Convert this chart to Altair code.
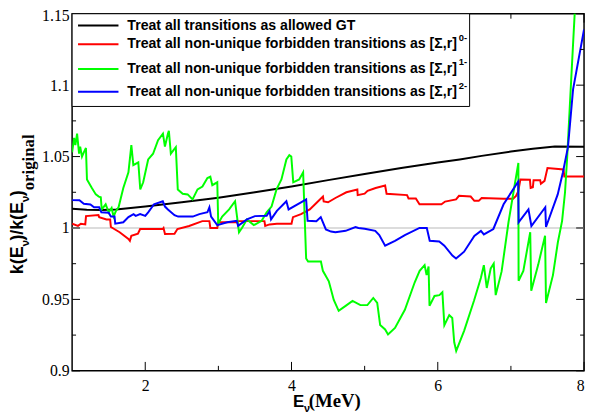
import altair as alt
import pandas as pd

# ---------------- data ----------------
SERIES = ["allowed GT", "[S,r]0-", "[S,r]1-", "[S,r]2-"]
COLORS = ["#000000", "#ff0000", "#00ff00", "#0000ff"]

BLACK_X = [1.0, 1.2, 1.4, 1.6, 2.0, 2.5, 3.0, 3.5, 4.0, 4.5, 5.0, 5.5, 6.0, 6.3, 6.6, 7.0, 7.3, 7.6, 8.0]
BLACK_Y = [1.0135, 1.0128, 1.0126, 1.013, 1.015, 1.018, 1.0212, 1.025, 1.029, 1.0335, 1.0378, 1.042,
           1.0458, 1.048, 1.0505, 1.0535, 1.0555, 1.057, 1.0568]

RED_X = [1.0, 1.08, 1.12, 1.18, 1.19, 1.36, 1.37, 1.47, 1.52, 1.53, 1.65, 1.77, 1.79, 1.81, 1.9, 1.93,
         2.24, 2.25, 2.27, 2.4, 2.44, 2.6, 2.78, 2.877, 2.89, 2.985, 3.0, 3.25, 3.27, 3.63, 3.64, 3.7,
         3.8, 4.0, 4.02, 4.13, 4.25, 4.35, 4.43, 4.44, 4.5, 4.6, 4.75, 4.9, 4.905, 5.0, 5.04, 5.15,
         5.28, 5.3, 5.58, 5.6, 5.7, 5.75, 6.05, 6.1, 6.25, 6.29, 6.45, 6.5, 6.56, 6.6, 6.9, 7.03,
         7.07, 7.1, 7.13, 7.26, 7.27, 7.3, 7.31, 7.4, 7.41, 7.46, 7.5, 7.72, 7.73, 8.0]
RED_Y = [1.003, 1.0015, 1.003, 1.0025, 1.0083, 1.009, 1.0076, 1.006, 1.006, 1.0007, 0.997, 0.9924,
         0.991, 0.9945, 0.996, 0.9993, 0.9993, 1.0, 0.9958, 0.996, 0.9993, 1.0014, 1.0048, 1.0048,
         1.0, 1.0, 1.004, 1.004, 1.0048, 1.0048, 1.0014, 1.0025, 1.003, 1.003, 1.0076, 1.0097, 1.013,
         1.018, 1.022, 1.0186, 1.018, 1.021, 1.025, 1.027, 1.023, 1.024, 1.026, 1.028, 1.0297, 1.024,
         1.023, 1.0207, 1.0207, 1.0166, 1.0166, 1.0185, 1.02, 1.0225, 1.022, 1.019, 1.019, 1.021,
         1.0205, 1.0205, 1.0225, 1.0256, 1.034, 1.0338, 1.028, 1.0285, 1.0335, 1.0335, 1.031, 1.033,
         1.042, 1.041, 1.036, 1.036]

GREEN_X = [1.0, 1.027, 1.045, 1.068, 1.095, 1.11, 1.135, 1.16, 1.189, 1.203, 1.27, 1.324, 1.365,
           1.392, 1.405, 1.459, 1.5, 1.54, 1.567, 1.6, 1.635, 1.7, 1.77, 1.81, 1.837, 1.905, 1.932,
           1.972, 2.04, 2.107, 2.175, 2.242, 2.269, 2.31, 2.323, 2.35, 2.418, 2.445, 2.512, 2.58,
           2.647, 2.715, 2.782, 2.85, 2.89, 2.917, 2.985, 2.998, 3.052, 3.147, 3.228, 3.255, 3.282,
           3.322, 3.39, 3.484, 3.592, 3.66, 3.727, 3.795, 3.862, 3.93, 3.97, 3.997, 4.024, 4.105,
           4.159, 4.173, 4.2, 4.227, 4.402, 4.429, 4.51, 4.578, 4.645, 4.74, 4.834, 4.942, 5.037,
           5.118, 5.172, 5.212, 5.28, 5.32, 5.415, 5.55, 5.685, 5.752, 5.82, 5.847, 5.874, 5.887,
           5.955, 6.022, 6.063, 6.09, 6.157, 6.198, 6.225, 6.252, 6.36, 6.495, 6.589, 6.63, 6.67,
           6.724, 6.765, 6.792, 6.873, 6.967, 7.035, 7.102, 7.105, 7.17, 7.264, 7.278, 7.372, 7.467,
           7.48, 7.575, 7.642, 7.70, 7.74, 7.77, 7.80, 7.845, 7.872, 7.9]
GREEN_Y = [1.053, 1.063, 1.058, 1.066, 1.052, 1.057, 1.05, 1.053, 1.056, 1.034, 1.028, 1.0235, 1.022,
           1.0215, 1.013, 1.0166, 1.011, 1.014, 1.008, 1.012, 1.0145, 1.028, 1.039, 1.058, 1.044,
           1.046, 1.027, 1.032, 1.048, 1.052, 1.0615, 1.066, 1.057, 1.066, 1.068, 1.052, 1.0566,
           1.027, 1.024, 1.0235, 1.02, 1.027, 1.029, 1.035, 1.036, 1.03, 1.032, 1.003, 1.008, 1.013,
           1.0187, 1.008, 0.997, 1.0, 1.006, 1.002, 1.005, 1.011, 1.015, 1.027, 1.034, 1.048, 1.051,
           1.05, 1.032, 1.034, 1.039, 1.018, 0.9786, 0.9765, 0.9765, 0.970, 0.9627, 0.9496, 0.942,
           0.9455, 0.9489, 0.946, 0.946, 0.951, 0.9475, 0.932, 0.929, 0.9254, 0.930, 0.9427, 0.962,
           0.970, 0.974, 0.967, 0.973, 0.9455, 0.9524, 0.953, 0.955, 0.932, 0.939, 0.937, 0.92,
           0.914, 0.928, 0.949, 0.965, 0.974, 0.958, 0.9717, 0.975, 0.953, 0.9696, 1.004, 1.025,
           1.0455, 0.963, 0.97, 0.997, 0.956, 0.974, 0.9945, 0.9475, 0.967, 0.99, 1.005, 1.025,
           1.05, 1.08, 1.124, 1.15, 1.17]

BLUE_X = [1.0, 1.1, 1.16, 1.25, 1.3, 1.37, 1.4, 1.5, 1.53, 1.58, 1.59, 1.7, 1.77, 1.84, 1.87, 1.93,
          2.0, 2.04, 2.12, 2.24, 2.27, 2.31, 2.4, 2.45, 2.65, 2.74, 2.85, 2.877, 2.9, 2.985, 3.12,
          3.25, 3.27, 3.39, 3.5, 3.66, 3.7, 3.72, 3.8, 3.93, 3.96, 4.13, 4.2, 4.22, 4.34, 4.4, 4.47,
          4.54, 4.6, 4.74, 4.875, 4.915, 5.0, 5.145, 5.2, 5.28, 5.415, 5.55, 5.75, 5.85, 5.89, 6.02,
          6.09, 6.2, 6.25, 6.36, 6.5, 6.59, 6.63, 6.76, 6.9, 7.1, 7.105, 7.24, 7.28, 7.47, 7.48,
          7.64, 7.71, 7.78, 7.85, 8.0]
BLUE_Y = [1.0195, 1.0194, 1.017, 1.0165, 1.0145, 1.0145, 1.011, 1.0107, 1.008, 1.008, 1.003, 1.004,
          1.0076, 1.0097, 1.0085, 1.0097, 1.0085, 1.011, 1.0166, 1.0187, 1.015, 1.013, 1.009, 1.008,
          1.008, 1.0097, 1.011, 1.0145, 1.008, 1.002, 1.004, 1.005, 1.0015, 1.006, 1.0083, 1.0085,
          1.0117, 1.006, 1.012, 1.0187, 1.013, 1.018, 1.02, 1.005, 1.0048, 1.0076, 0.999, 0.9975,
          0.997, 0.998, 1.0007, 1.0, 0.9995, 0.998, 0.995, 0.9876, 0.991, 0.995, 1.0, 1.0, 0.991,
          0.9905, 0.9876, 0.9807, 0.9786, 0.9834, 0.9945, 0.998, 0.9955, 0.9993, 1.0166, 1.0325,
          1.004, 1.013, 1.0014, 1.0145, 1.0007, 1.0235, 1.0387, 1.0566, 1.097, 1.139]

LEGEND_TEXT = ["Treat all transitions  as allowed GT",
               "Treat all non-unique forbidden transitions as [\u03a3,r]",
               "Treat all non-unique forbidden transitions as [\u03a3,r]",
               "Treat all non-unique forbidden transitions as [\u03a3,r]"]
LEGEND_SUP = ["", "0-", "1-", "2-"]

X_TICKS = [2, 4, 6, 8]
X_MINOR = [3, 5, 7]
Y_TICKS = [0.9, 0.95, 1.0, 1.05, 1.1, 1.15]
Y_MINOR = [0.925, 0.975, 1.025, 1.075, 1.125]
REF_LEVEL = [1.0]

SANS = "Liberation Sans, Arial, Helvetica, sans-serif"
SERIF = "'Liberation Serif', 'Times New Roman', Times, 'DejaVu Serif', 'Noto Serif', serif"

# ---------------- build ----------------
W, H = 519, 362
rows = []
for name, xs, ys in [(SERIES[0], BLACK_X, BLACK_Y), (SERIES[1], RED_X, RED_Y),
                     (SERIES[2], GREEN_X, GREEN_Y), (SERIES[3], BLUE_X, BLUE_Y)]:
    for i, (x, y) in enumerate(zip(xs, ys)):
        rows.append({"series": name, "i": i, "x": x, "y": y})
df = pd.DataFrame(rows)

xs_ = alt.Scale(domain=[1, 8], nice=False, zero=False)
ys_ = alt.Scale(domain=[0.9, 1.15], nice=False, zero=False)
xax = alt.Axis(values=X_TICKS, format="d", title=None, ticks=False, domain=False, grid=False,
               labelFont=SERIF, labelFontSize=16, labelColor="black",
               labelPadding=7, labelBaseline="top")
yax = alt.Axis(values=Y_TICKS, format=".2~f", title=None, ticks=False, domain=False, grid=False,
               labelFont=SERIF, labelFontSize=16, labelColor="black",
               labelPadding=3,
               labelOffset={"condition": {"test": "datum.value > 1.14", "value": 2}, "value": 0})

def X(f):
    return alt.X(f, type="quantitative", scale=xs_, axis=xax)

def Y(f):
    return alt.Y(f, type="quantitative", scale=ys_, axis=yax)

dummy = pd.DataFrame({"a": [0]})

def txt(s, x, y, size, font=SANS, weight="bold", angle=0, baseline="alphabetic",
        align="left"):
    return alt.Chart(dummy).mark_text(text=s, font=font, fontSize=size, fontWeight=weight,
                                      angle=angle, baseline=baseline, align=align,
                                      color="black").encode(x=alt.value(x), y=alt.value(y))

layers = []

# reference line at 1
layers.append(alt.Chart(pd.DataFrame({"y": REF_LEVEL})).mark_rule(color="#d0d0d0", strokeWidth=1.5)
              .encode(y=Y("y"), x=alt.value(0), x2=alt.value(W)))

# data lines
lines = alt.Chart(df).mark_line(clip=True, strokeWidth=2).encode(
    x=X("x"), y=Y("y"),
    color=alt.Color("series:N", scale=alt.Scale(domain=SERIES, range=COLORS), legend=None),
    order="i:Q", detail="series:N",
    strokeWidth=alt.condition(alt.datum.series == SERIES[0], alt.value(2.6), alt.value(2)))
layers.append(lines)

# ticks (inward)
ymaj = pd.DataFrame({"t": Y_TICKS})
ymin = pd.DataFrame({"t": Y_MINOR})
xmaj = pd.DataFrame({"t": X_TICKS})
xmin = pd.DataFrame({"t": X_MINOR})
for d, L in [(ymaj, 8), (ymin, 4)]:
    layers.append(alt.Chart(d).mark_rule(color="black", strokeWidth=1)
                  .encode(y=Y("t"), x=alt.value(0), x2=alt.value(L)))
    layers.append(alt.Chart(d).mark_rule(color="black", strokeWidth=1)
                  .encode(y=Y("t"), x=alt.value(W), x2=alt.value(W - L)))
for d, L in [(xmaj, 9), (xmin, 5)]:
    layers.append(alt.Chart(d).mark_rule(color="black", strokeWidth=1)
                  .encode(x=X("t"), y=alt.value(H), y2=alt.value(H - L)))
    layers.append(alt.Chart(d).mark_rule(color="black", strokeWidth=1)
                  .encode(x=X("t"), y=alt.value(0), y2=alt.value(L)))

# legend box
layers.append(alt.Chart(dummy).mark_rect(fill="white", stroke="black", strokeWidth=1)
              .encode(x=alt.value(0), x2=alt.value(403), y=alt.value(0), y2=alt.value(94)))
row_y = [12, 31, 56, 79]
sup_y = [0, 24.5, 49, 73.5]
for k in range(4):
    layers.append(alt.Chart(dummy).mark_rule(color=COLORS[k], strokeWidth=2)
                  .encode(x=alt.value(6), x2=alt.value(47), y=alt.value(row_y[k])))
    layers.append(txt(LEGEND_TEXT[k], 56, row_y[k], 14.3, baseline="middle"))
    if LEGEND_SUP[k]:
        layers.append(txt(LEGEND_SUP[k], 392, sup_y[k], 9.5, baseline="middle"))

# x title
layers.append(txt("E", 224, 399, 17))
layers.append(txt("\u03bd", 235, 404, 11))
layers.append(txt("(MeV)", 240, 399, 19, font=SERIF))

# y title (rotated), chained upward
bx, sx = -50, -44
layers.append(txt("k(E", bx, 264, 18, angle=270))
layers.append(txt("\u03bd", sx, 236, 12, angle=270))
layers.append(txt(")/k(E", bx, 230, 18, angle=270))
layers.append(txt("\u03bd", sx, 191, 12, angle=270))
layers.append(txt(")", bx, 185, 18, angle=270))
layers.append(txt("original", -39, 179, 17, font=SERIF, angle=270))

chart = alt.layer(*layers).properties(
    width=W, height=H,
    autosize=alt.AutoSizeParams(type="none"),
    padding={"left": 65, "top": 3, "right": 3, "bottom": 44},
    background="white",
).configure_view(stroke="black", strokeWidth=1.5)

chart.save("out.html", embed_options={"renderer": "svg", "actions": False})
